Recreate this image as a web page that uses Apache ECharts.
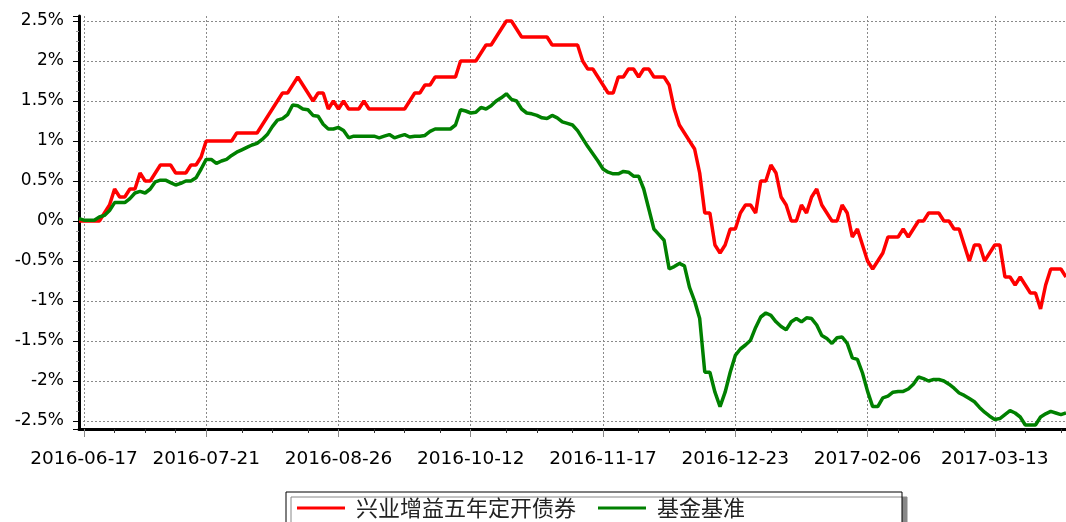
<!DOCTYPE html>
<html><head><meta charset="utf-8">
<script src="https://cdn.jsdelivr.net/npm/echarts@6/dist/echarts.min.js"></script>
<style>html,body{margin:0;padding:0;background:#fff}#c{width:1066px;height:522px}</style>
</head><body><div id="c"></div>
<script>
// ---- data ----
const seriesNames = ['兴业增益五年定开债券', '基金基准'];
const tickLabels = ['2016-06-17','2016-07-21','2016-08-26','2016-10-12','2016-11-17','2016-12-23','2017-02-06','2017-03-13'];
const startDate = '2016-06-16';
const endDate = '2017-03-31';
const holidays = ['2016-09-15','2016-09-16','2016-10-03','2016-10-04','2016-10-05','2016-10-06','2016-10-07',
  '2017-01-02','2017-01-27','2017-01-30','2017-01-31','2017-02-01','2017-02-02'];
const extraDays = ['2016-12-31'];
// cumulative return, %
const fundValues = [0,
 0,0,0,0,0.1,0.2,0.4,0.3,0.3,0.4, 0.4,0.6,0.5,0.5,0.6,0.7,0.7,0.7,0.6,0.6,
 0.6,0.7,0.7,0.8,1.0,1.0,1.0,1.0,1.0,1.0, 1.1,1.1,1.1,1.1,1.1,1.2,1.3,1.4,1.5,1.6,
 1.6,1.7,1.8,1.7,1.6,1.5,1.6,1.6,1.4,1.5, 1.4,1.5,1.4,1.4,1.4,1.5,1.4,1.4,1.4,1.4,
 1.4,1.4,1.4,1.4,1.5,1.6,1.6,1.7,1.7,1.8, 1.8,1.8,1.8,1.8,2.0,2.0,2.0,2.0,2.1,2.2,
 2.2,2.3,2.4,2.5,2.5,2.4,2.3,2.3,2.3,2.3, 2.3,2.3,2.2,2.2,2.2,2.2,2.2,2.2,2.0,1.9,
 1.9,1.8,1.7,1.6,1.6,1.8,1.8,1.9,1.9,1.8, 1.9,1.9,1.8,1.8,1.8,1.7,1.4,1.2,1.1,1.0,
 0.9,0.6,0.1,0.1,-0.3,-0.4,-0.3,-0.1,-0.1,0.1, 0.2,0.2,0.1,0.5,0.5,0.7,0.6,0.3,0.2,0.0,
 0.0,0.2,0.1,0.3,0.4,0.2,0.1,0.0,0.0,0.2, 0.1,-0.2,-0.1,-0.3,-0.5,-0.6,-0.5,-0.4,-0.2,-0.2,
 -0.2,-0.1,-0.2,-0.1,0.0,0.0,0.1,0.1,0.1,0.0, 0.0,-0.1,-0.1,-0.3,-0.5,-0.3,-0.3,-0.5,-0.4,-0.3,
 -0.3,-0.7,-0.7,-0.8,-0.7,-0.8,-0.9,-0.9,-1.1,-0.8, -0.6,-0.6,-0.6,-0.7];
const benchValues = [0.03,
 0.01,0.01,0.01,0.05,0.07,0.13,0.23,0.23,0.23,0.28, 0.35,0.37,0.35,0.40,0.49,0.51,0.51,0.48,0.45,0.47,
 0.50,0.50,0.54,0.65,0.77,0.77,0.72,0.75,0.77,0.82, 0.86,0.89,0.92,0.95,0.97,1.02,1.08,1.18,1.26,1.28,
 1.33,1.45,1.44,1.40,1.39,1.32,1.31,1.21,1.15,1.15, 1.17,1.13,1.04,1.06,1.06,1.06,1.06,1.06,1.04,1.06,
 1.08,1.04,1.06,1.08,1.05,1.06,1.06,1.07,1.12,1.15, 1.15,1.15,1.15,1.20,1.39,1.375,1.35,1.36,1.42,1.40,
 1.44,1.50,1.54,1.59,1.52,1.50,1.40,1.35,1.34,1.32, 1.29,1.28,1.32,1.29,1.24,1.22,1.20,1.13,1.03,0.93,
 0.84,0.75,0.65,0.61,0.59,0.59,0.62,0.61,0.56,0.56, 0.40,0.15,-0.10,-0.17,-0.24,-0.60,-0.57,-0.53,-0.56,-0.83,
 -1.00,-1.22,-1.89,-1.89,-2.14,-2.32,-2.14,-1.89,-1.68,-1.60, -1.55,-1.49,-1.33,-1.20,-1.15,-1.18,-1.26,-1.32,-1.36,-1.26,
 -1.22,-1.26,-1.21,-1.22,-1.30,-1.43,-1.47,-1.53,-1.46,-1.45, -1.53,-1.71,-1.73,-1.90,-2.13,-2.32,-2.32,-2.21,-2.19,-2.14,
 -2.13,-2.13,-2.10,-2.04,-1.95,-1.97,-2.00,-1.98,-1.98,-2.00, -2.04,-2.09,-2.15,-2.18,-2.22,-2.26,-2.33,-2.39,-2.44,-2.48,
 -2.47,-2.42,-2.37,-2.40,-2.45,-2.55,-2.55,-2.55,-2.45,-2.41, -2.38,-2.40,-2.42,-2.40];

// ---- build trading-day categories ----
function buildDates() {
  const out = [];
  let d = new Date(startDate + 'T00:00:00Z');
  const end = new Date(endDate + 'T00:00:00Z');
  while (d <= end) {
    const s = d.toISOString().slice(0, 10);
    const wd = d.getUTCDay();
    if ((wd !== 0 && wd !== 6 && holidays.indexOf(s) < 0) || extraDays.indexOf(s) >= 0) out.push(s);
    d = new Date(d.getTime() + 86400000);
  }
  return out;
}
const dates = buildDates();
const labelIdx = tickLabels.map(t => dates.indexOf(t));
const minorIdx = [];
for (let k = 0; k < labelIdx.length; k++) {
  const a = labelIdx[k];
  const step = k < labelIdx.length - 1 ? (labelIdx[k + 1] - a) / 4 : (labelIdx[k] - labelIdx[k - 1]) / 4;
  for (let j = 1; j < 4; j++) {
    const m = Math.round(a + j * step);
    if (m < dates.length) minorIdx.push(m);
  }
}
const isLabel = (i) => labelIdx.indexOf(i) >= 0;
const isMinor = (i) => minorIdx.indexOf(i) >= 0;

const gridLine = { color: '#8a8a8a', width: 1, type: [2, 2] };

const chart = echarts.init(document.getElementById('c'), null, { renderer: 'canvas' });
chart.setOption({
  animation: false,
  backgroundColor: '#fff',
  grid: { left: 79, right: -2, top: 16, bottom: 93, containLabel: false },
  legend: {
    data: seriesNames,
    left: 286, top: 492,
    itemWidth: 48, itemHeight: 3, itemGap: 22, icon: 'rect',
    padding: [5, 157, 20, 11],
    borderColor: '#000', borderWidth: 1, backgroundColor: '#fff',
    shadowColor: '#888', shadowOffsetX: 5, shadowOffsetY: 5, shadowBlur: 0,
    textStyle: { fontFamily: '"Noto Sans CJK SC"', fontSize: 22, color: '#222', padding: [0, 0, 0, 6] }
  },
  xAxis: [{
    type: 'category', data: dates, boundaryGap: false,
    axisLine: { onZero: false, lineStyle: { color: '#000', width: 3 } },
    axisTick: { show: true, interval: isLabel, length: 8, lineStyle: { color: '#888' } },
    axisLabel: { interval: isLabel, fontFamily: '"DejaVu Sans"', fontSize: 18.5, color: '#000', margin: 21,
      formatter: v => v },
    splitLine: { show: true, interval: isLabel, lineStyle: gridLine }
  }, {
    type: 'category', data: dates, boundaryGap: false, position: 'bottom', gridIndex: 0,
    axisLine: { show: false, onZero: false },
    axisTick: { show: true, interval: isMinor, length: 4, lineStyle: { color: '#333' } },
    axisLabel: { show: false },
    splitLine: { show: false }
  }],
  yAxis: {
    type: 'value', min: -2.6, max: 2.5625, splitNumber: 10,
    axisLine: { show: true, onZero: false, lineStyle: { color: '#000', width: 3 } },
    axisTick: { show: true, length: 6, lineStyle: { color: '#000' } },
    minorTick: { show: true, splitNumber: 4, length: 3, lineStyle: { color: '#999' } },
    axisLabel: {
      fontFamily: '"DejaVu Sans"', fontSize: 17, color: '#000', margin: 15,
      showMinLabel: false, showMaxLabel: false,
      formatter: v => {
        const r = Math.round(v * 10) / 10;
        if (Math.abs(v * 2 - Math.round(v * 2)) > 1e-6) return '';
        return r + '%';
      }
    },
    splitLine: { show: true, showMinLine: false, showMaxLine: false, lineStyle: gridLine }
  },
  series: [
    { name: seriesNames[0], type: 'line', data: fundValues, symbol: 'none', showSymbol: false,
      lineStyle: { color: '#ff0000', width: 3.5 }, itemStyle: { color: '#ff0000' }, z: 2 },
    { name: seriesNames[1], type: 'line', data: benchValues, symbol: 'none', showSymbol: false,
      lineStyle: { color: '#008000', width: 3.5 }, itemStyle: { color: '#008000' }, z: 3 }
  ]
});
</script></body></html>
